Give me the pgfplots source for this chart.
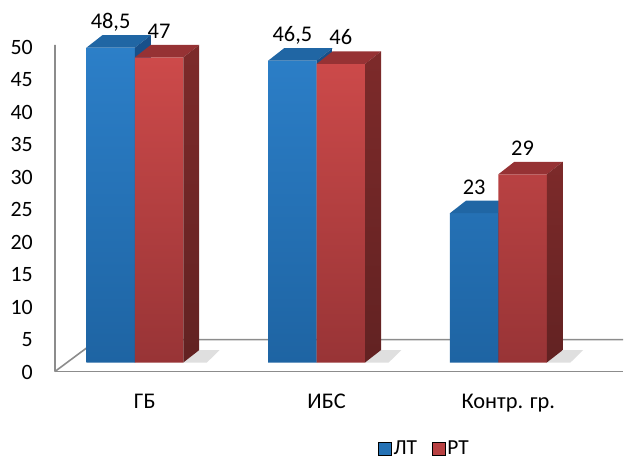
\documentclass[border=0pt]{standalone}
\usepackage{pgfplots}
\pgfplotsset{compat=1.18}
\usepackage{pgfplotstable}
\usepackage{fontspec}
\setmainfont{Carlito}

\definecolor{blueF1}{RGB}{44,127,200}
\definecolor{blueF2}{RGB}{30,100,163}
\definecolor{blueT}{RGB}{32,102,164}
\definecolor{blueS}{RGB}{24,80,138}
\definecolor{redF1}{RGB}{205,74,74}
\definecolor{redF2}{RGB}{152,52,54}
\definecolor{redT}{RGB}{150,50,52}
\definecolor{redS1}{RGB}{125,42,42}
\definecolor{redS2}{RGB}{98,34,34}
\definecolor{floorline}{RGB}{140,140,140}

% value table: x = category index, lt / rt = values
\pgfplotstableread{
x lt rt
0 48.5 47
1 46.5 46
2 23 29
}\data

% bar width 0.2665 (axis units), depth offset dx=0.0879, dy=1.923
\newcommand{\topface}[3]{%
  \pgfmathsetmacro\xa{#1+0.2665}%
  \pgfmathsetmacro\xb{#1+0.3544}%
  \pgfmathsetmacro\xc{#1+0.0879}%
  \pgfmathsetmacro\yb{#2+1.923}%
  \addplot[fill=#3, draw=none, mark=none, forget plot] coordinates {(#1,#2) (\xa,#2) (\xb,\yb) (\xc,\yb)};}
\newcommand{\sideface}[4]{%
  \pgfmathsetmacro\xa{#1+0.0879}%
  \pgfmathsetmacro\yb{#2+1.923}%
  \addplot[top color=#3, bottom color=#4, draw=none, mark=none, forget plot] coordinates {(#1,0) (#1,#2) (\xa,\yb) (\xa,1.923)};}
\newcommand{\shadow}[1]{%
  \pgfmathsetmacro\xa{#1+0.0879}%
  \pgfmathsetmacro\xb{#1+0.20}%
  \pgfmathsetmacro\xc{#1+0.13}%
  \addplot[fill=black!18, draw=none, mark=none, opacity=0.7, forget plot] coordinates {(#1,0) (\xa,1.923) (\xb,1.923) (\xc,0)};}

\begin{document}
\begin{tikzpicture}
\begin{axis}[
  scale only axis,
  width=624bp, height=462bp,
  xmin=-0.74176, xmax=2.68681,
  ymin=-15.231, ymax=55.846,
  clip=false,
  axis line style={draw=none},
  tick style={draw=none},
  ytick={0,5,...,50},
  yticklabel style={anchor=east, inner sep=0pt, xshift=33bp, yshift=-9.5bp, font=\fontsize{22}{25}\selectfont},
  /pgf/number format/assume math mode=true,
  xtick={0,1,2},
  xticklabels={ГБ, ИБС, Контр. гр.},
  xticklabel style={anchor=base, inner sep=0pt, xshift=10bp, yshift=53bp, font=\fontsize{22.5}{26}\selectfont},
  legend columns=2,
  legend style={draw=none, fill=none, inner sep=0pt, at={(axis cs:1.3352,-13.3)}, anchor=west,
    nodes={inner sep=2.5bp, font=\fontsize{21.5}{24}\selectfont},
    /tikz/every even column/.append style={column sep=12bp}},
  legend image code/.code={\fill[#1] (0bp,-6.5bp) rectangle (13bp,6.5bp);},
  every node near coord/.append style={anchor=base, yshift=19bp, font=\fontsize{22.5}{26}\selectfont,
    /pgf/number format/use comma},
]
% floor and left wall edge
\addplot[draw=floorline, line width=1.6bp, mark=none, forget plot] coordinates {(-0.4396,-1.385) (2.68681,-1.385)};
\addplot[draw=floorline, line width=1.6bp, mark=none, forget plot] coordinates {(-0.4396,-1.385) (-0.2033,3.538) (2.68681,3.538)};
\addplot[draw=floorline, line width=1.8bp, mark=none, forget plot] coordinates {(-0.4396,-1.385) (-0.4397,48.92)};

% floor shadows
\shadow{0.2665}
\shadow{1.2665}
\shadow{2.2665}

% blue bars (front faces)
\addplot[ybar, bar width=0.2665, bar shift=0pt, draw=none, top color=blueF1, bottom color=blueF2,
  nodes near coords, forget plot] table[x expr=\thisrow{x}-0.13325, y=lt] {\data};
\topface{-0.2665}{48.5}{blueT}
\topface{0.7335}{46.5}{blueT}
\topface{1.7335}{23}{blueT}
\sideface{0}{48.5}{blueS}{blueS}
\sideface{1}{46.5}{blueS}{blueS}
\sideface{2}{23}{blueS}{blueS}

% red bars (front faces)
\addplot[ybar, bar width=0.2665, bar shift=0pt, draw=none, top color=redF1, bottom color=redF2,
  nodes near coords, forget plot] table[x expr=\thisrow{x}+0.13325, y=rt] {\data};
\topface{0}{47}{redT}
\topface{1}{46}{redT}
\topface{2}{29}{redT}
\sideface{0.2665}{47}{redS1}{redS2}
\sideface{1.2665}{46}{redS1}{redS2}
\sideface{2.2665}{29}{redS1}{redS2}

\addlegendimage{fill=blueF1!50!blueF2}
\addlegendentry{ЛТ}
\addlegendimage{fill=redF1!60!redF2}
\addlegendentry{РТ}
\end{axis}
\end{tikzpicture}
\end{document}
